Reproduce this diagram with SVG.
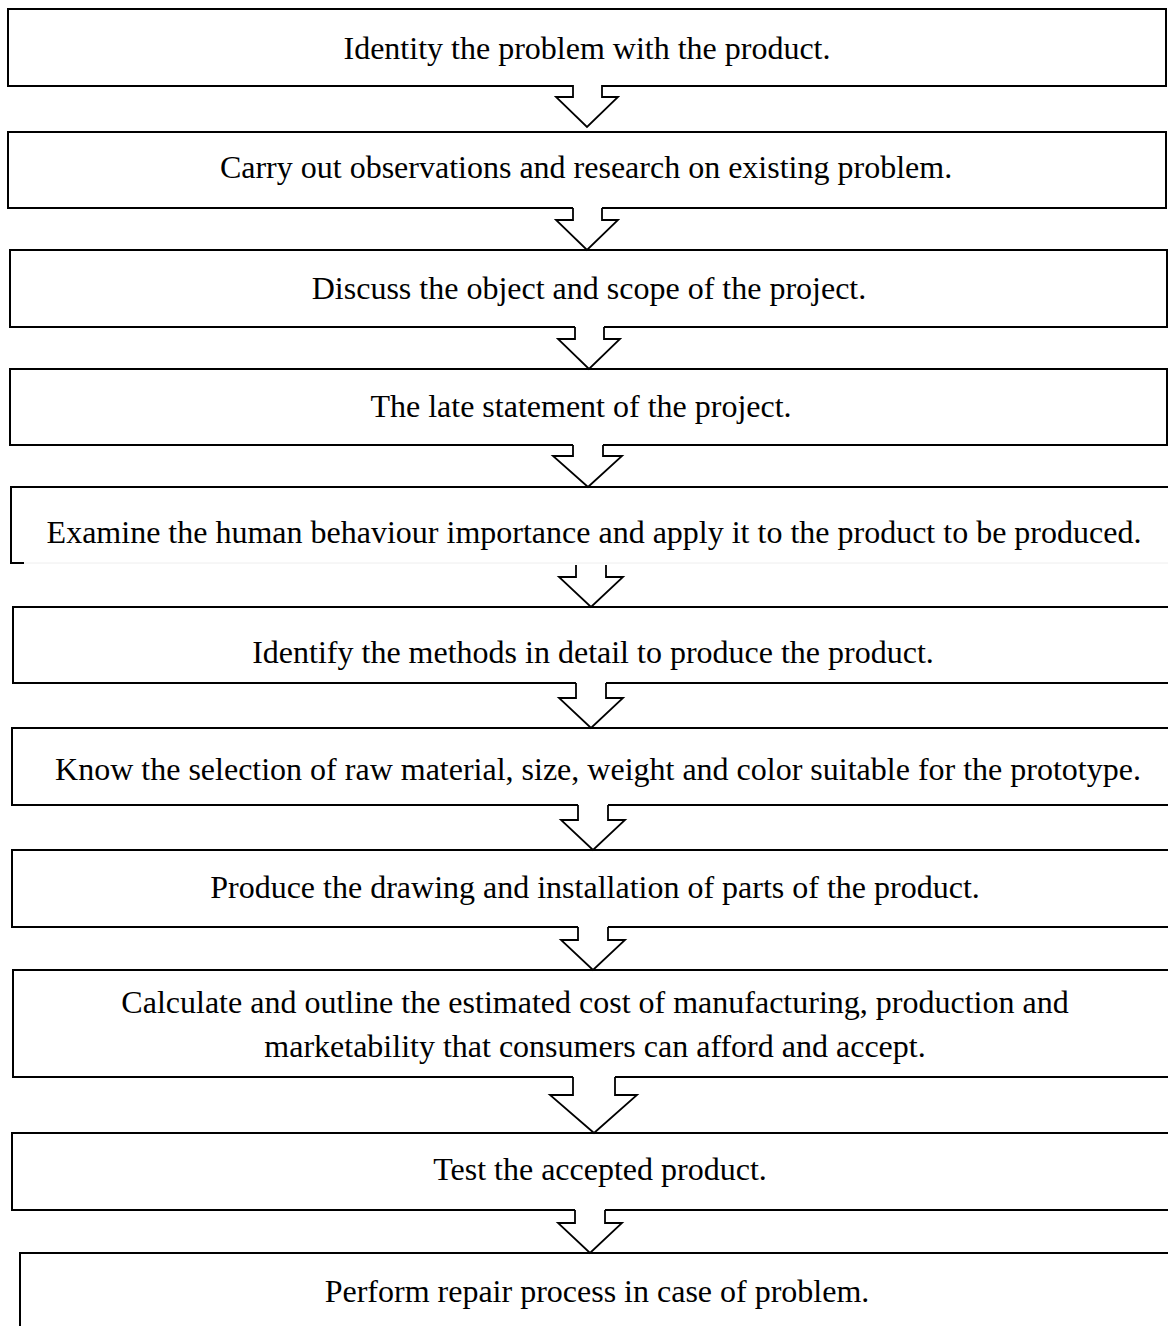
<svg xmlns="http://www.w3.org/2000/svg" width="1168" height="1326" viewBox="0 0 1168 1326">
<style>
.box{fill:#fff;stroke:#000;stroke-width:2}
.t{font-family:"Liberation Serif","Times New Roman",serif;font-size:32px;fill:#000;text-anchor:middle}
.af{fill:#fff;stroke:none}
.al{fill:none;stroke:#000;stroke-width:1.8;stroke-linejoin:miter}
</style>
<rect width="1168" height="1326" fill="#fff"/>
<g id="n1"><rect class="box" x="8" y="9" width="1158" height="77"/><text class="t" x="587" y="59">Identity the problem with the product.</text></g>
<g id="n2"><rect class="box" x="8" y="132" width="1158" height="76"/><text class="t" x="586" y="178">Carry out observations and research on existing problem.</text></g>
<g id="n3"><rect class="box" x="10" y="250" width="1157" height="77"/><text class="t" x="589" y="299">Discuss the object and scope of the project.</text></g>
<g id="n4"><rect class="box" x="10" y="369" width="1157" height="76"/><text class="t" x="581" y="417">The late statement of the project.</text></g>
<g id="n5"><path fill="none" stroke="#000" stroke-width="2" d="M24,563 H11 V487 H1170"/><line x1="24" y1="563" x2="1168" y2="563" stroke="#eee" stroke-width="1"/><text class="t" x="594" y="543">Examine the human behaviour importance and apply it to the product to be produced.</text></g>
<g id="n6"><rect class="box" x="13" y="607" width="1170" height="76"/><text class="t" x="593" y="663">Identify the methods in detail to produce the product.</text></g>
<g id="n7"><rect class="box" x="12" y="728" width="1170" height="77"/><text class="t" x="598" y="780">Know the selection of raw material, size, weight and color suitable for the prototype.</text></g>
<g id="n8"><rect class="box" x="12" y="850" width="1170" height="77"/><text class="t" x="595" y="898">Produce the drawing and installation of parts of the product.</text></g>
<g id="n9"><rect class="box" x="13" y="970" width="1170" height="107"/><text class="t" x="595" y="1013">Calculate and outline the estimated cost of manufacturing, production and</text><text class="t" x="595" y="1057">marketability that consumers can afford and accept.</text></g>
<g id="n10"><rect class="box" x="12" y="1133" width="1170" height="77"/><text class="t" x="600" y="1180">Test the accepted product.</text></g>
<g id="n11"><rect class="box" x="20" y="1253" width="1170" height="90"/><text class="t" x="597" y="1302">Perform repair process in case of problem.</text></g>
<g id="connectors">
<g><polygon class="af" points="573,84 573,97 556,97 587,127 618,97 602,97 602,84"/><polyline class="al" points="573,85 573,97 556,97 587,127 618,97 602,97 602,85"/></g>
<g><polygon class="af" points="573,207 573,220 556,220 587,250 618,220 602,220 602,207"/><polyline class="al" points="573,208 573,220 556,220 587,250 618,220 602,220 602,208"/></g>
<g><polygon class="af" points="575,326 575,339 558,339 589,369 620,339 604,339 604,326"/><polyline class="al" points="575,327 575,339 558,339 589,369 620,339 604,339 604,327"/></g>
<g><polygon class="af" points="573,444 573,456 551,456 588,487 622,456 603,456 603,444"/><polyline class="al" points="573,445 573,456 553,456 588,487 622,456 603,456 603,445"/></g>
<g><polygon class="af" points="576,565 576,577 559,577 591,607 623,577 606,577 606,565"/><polyline class="al" points="576,565 576,577 559,577 591,607 623,577 606,577 606,565"/></g>
<g><polygon class="af" points="576,682 576,698 559,698 591,728 623,698 606,698 606,682"/><polyline class="al" points="576,683 576,698 559,698 591,728 623,698 606,698 606,683"/></g>
<g><polygon class="af" points="578,804 578,820 561,820 593,850 625,820 608,820 608,804"/><polyline class="al" points="578,805 578,820 561,820 593,850 625,820 608,820 608,805"/></g>
<g><polygon class="af" points="578,926 578,940 561,940 593,970 625,940 608,940 608,926"/><polyline class="al" points="578,927 578,940 561,940 593,970 625,940 608,940 608,927"/></g>
<g><polygon class="af" points="573,1076 573,1095 550,1095 594,1133 637,1095 615,1095 615,1076"/><polyline class="al" points="573,1077 573,1095 550,1095 594,1133 637,1095 615,1095 615,1077"/></g>
<g><polygon class="af" points="575,1209 575,1223 558,1223 590,1253 622,1223 605,1223 605,1209"/><polyline class="al" points="575,1210 575,1223 558,1223 590,1253 622,1223 605,1223 605,1210"/></g>
</g>
</svg>
